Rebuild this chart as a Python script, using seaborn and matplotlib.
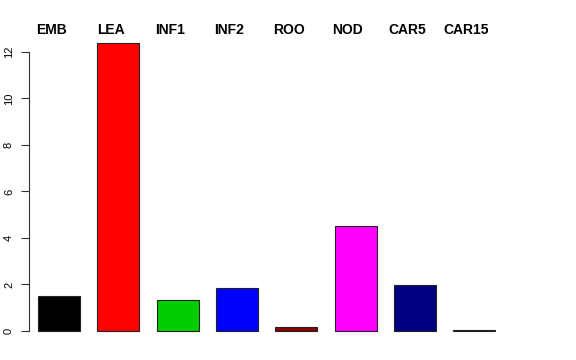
import matplotlib
matplotlib.use("Agg")
import matplotlib.pyplot as plt
import matplotlib.transforms as mtransforms
import seaborn as sns
import pandas as pd

categories = ["EMB", "LEA", "INF1", "INF2", "ROO", "NOD", "CAR5", "CAR15"]
values = [1.50, 12.40, 1.33, 1.85, 0.17, 4.53, 1.98, 0.03]
colors = ["#000000", "#FF0000", "#00CD00", "#0000FF", "#8B0000", "#FF00FF", "#000080", "#808080"]
yticks = [0, 2, 4, 6, 8, 10, 12]

sns.set_style("white")
plt.rcParams["font.family"] = ["Liberation Sans", "DejaVu Sans"]
plt.rcParams["text.color"] = "black"
plt.rcParams["ytick.color"] = "black"

W, H = 576, 360
fig = plt.figure(figsize=(W / 100, H / 100), dpi=100)
left_px, right_px, top_px, bot_px = 29, 504, 31.4, 342.5
ax = fig.add_axes([left_px / W, (H - bot_px) / H, (right_px - left_px) / W, (bot_px - top_px) / H])

df = pd.DataFrame({"cat": categories, "val": values})
sns.barplot(data=df, x="cat", y="val", hue="cat", palette=colors, legend=False,
            width=0.708, edgecolor="#222222", linewidth=0.8, ax=ax, saturation=1)

ax.set_xlim(-0.506, 7.504)
ax.set_ylim(-0.495, 12.886)
for s in ["top", "right", "bottom"]:
    ax.spines[s].set_visible(False)
ax.spines["left"].set_bounds(0, 12)
ax.spines["left"].set_color("#333333")
ax.spines["left"].set_linewidth(0.8)
ax.set_yticks(yticks)
ax.set_yticklabels([str(t) for t in yticks], rotation=90, va="center", fontsize=8)
ax.tick_params(axis="y", length=5.8, width=0.8, color="#333333", pad=5, left=True,
               labelcolor="black")
ax.set_xticks([])
ax.set_xlabel("")
ax.set_ylabel("")

# Category labels across the top, slightly left of each bar centre
blend = mtransforms.blended_transform_factory(ax.transData, fig.transFigure)
label_y = 1 - 30 / H
for i, c in enumerate(categories):
    ax.text(i - 0.13, label_y, c, transform=blend,
            ha="center", va="center", fontsize=10, fontweight="bold", color="black")

fig.savefig("out.png", dpi=100)
